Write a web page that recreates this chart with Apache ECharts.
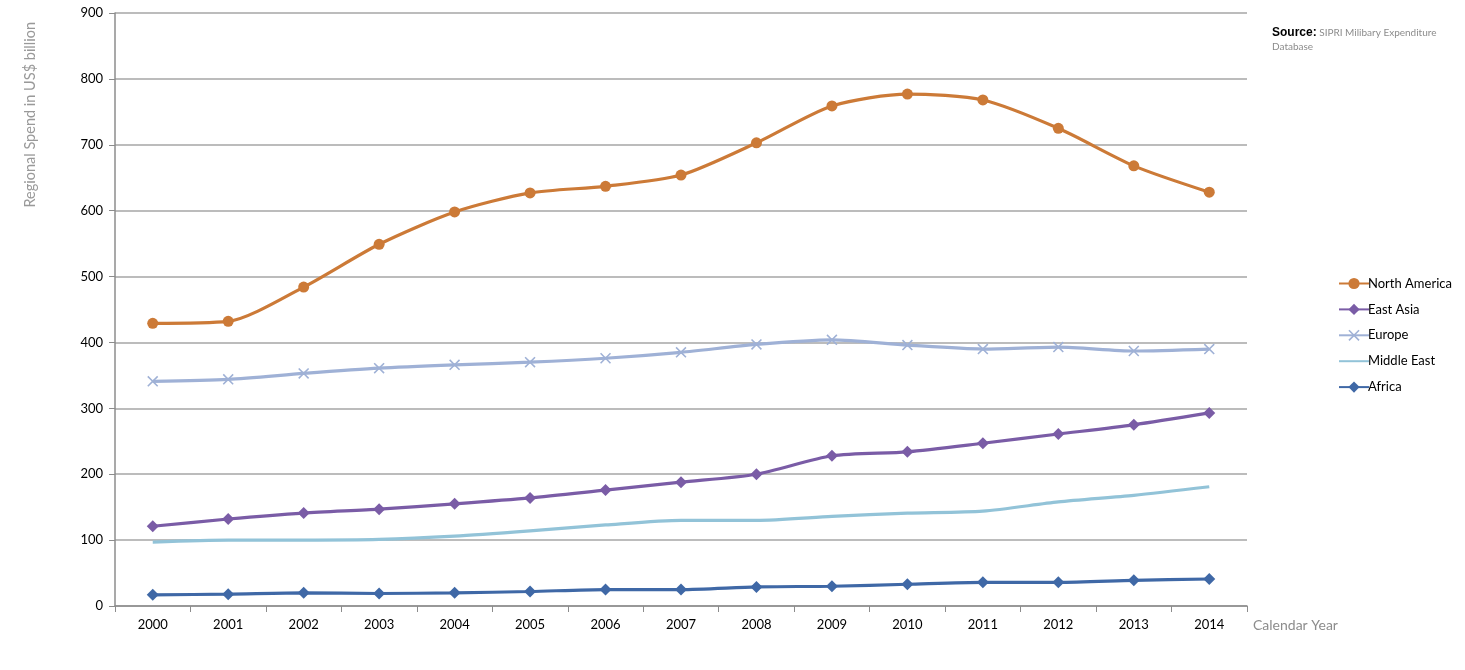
<!DOCTYPE html>
<html>
<head>
<meta charset="utf-8">
<script src="https://cdn.jsdelivr.net/npm/echarts@6/dist/echarts.min.js"></script>
<style>html,body{margin:0;padding:0;background:#fff}#c{width:1465px;height:670px}</style>
</head>
<body>
<div id="c"></div>
<script>
const years = ['2000','2001','2002','2003','2004','2005','2006','2007','2008','2009','2010','2011','2012','2013','2014'];
const northAmerica = [429,432,484,549,598,627,637,654,703,759,777,768,725,668,628];
const eastAsia = [121,132,141,147,155,164,176,188,200,228,234,247,261,275,293];
const europe = [341,344,353,361,366,370,376,385,397,404,396,390,393,387,390];
const middleEast = [97,100,100,101,106,114,123,130,130,136,141,144,158,168,181];
const africa = [17,18,20,19,20,22,25,25,29,30,33,36,36,39,41];
const yTicks = {min:0, max:900, interval:100};

const FONT = 'Lato, "Liberation Sans", sans-serif';
const crossPath = 'path://M0,1 L1,0 L5,4 L9,0 L10,1 L6,5 L10,9 L9,10 L5,6 L1,10 L0,9 L4,5 Z';

const chart = echarts.init(document.getElementById('c'));
function mk(name, data, color, symbol, size, z){
  return {
    name, type:'line', data, smooth:0.25, z,
    symbol, symbolSize:size, showSymbol: symbol !== 'none',
    lineStyle:{color, width:3.2},
    itemStyle:{color},
    emphasis:{disabled:true}
  };
}
chart.setOption({
  animation:false,
  textStyle:{fontFamily:FONT},
  grid:{left:115, right:218, top:13, bottom:64},
  legend:{
    orient:'vertical', left:1333, top:272, itemGap:11.7+1.2, itemWidth:30, itemHeight:14,
    textStyle:{fontFamily:FONT, fontSize:13, color:'#000', padding:[0,0,0,-6]},
    data:['North America','East Asia','Europe',{name:'Middle East', itemStyle:{opacity:0}},'Africa']
  },
  xAxis:{
    type:'category', data:years, boundaryGap:true,
    axisLine:{lineStyle:{color:'#8c8c8c', width:1.5}},
    axisTick:{show:true, alignWithLabel:false, length:6, lineStyle:{color:'#8c8c8c'}},
    axisLabel:{color:'#000', fontSize:13, margin:12, fontFamily:FONT},
    splitLine:{show:false}
  },
  yAxis:{
    type:'value', min:yTicks.min, max:yTicks.max, interval:yTicks.interval,
    axisLine:{show:true, lineStyle:{color:'#8c8c8c', width:1.5}},
    axisTick:{show:true, length:6, lineStyle:{color:'#8c8c8c'}},
    axisLabel:{color:'#000', fontSize:13, margin:12, fontFamily:FONT},
    splitLine:{lineStyle:{color:'#a6a6a6', width:1.5}}
  },
  series:[
    mk('North America', northAmerica, '#cc7a37', 'circle', 11, 5),
    mk('East Asia', eastAsia, '#7a5ca6', 'diamond', 12, 4),
    mk('Europe', europe, '#9fb1d6', crossPath, 11, 3),
    mk('Middle East', middleEast, '#92c3d8', 'none', 0, 2),
    mk('Africa', africa, '#3f68a6', 'diamond', 12, 6)
  ],
  graphic:[
    {type:'text', left:23, top:22, rotation:Math.PI/2, originX:0, originY:0,
     style:{text:'Regional Spend in US$ billion', fill:'#999999', font:'14.5px '+FONT}},
    {type:'text', left:1253, top:618,
     style:{text:'Calendar Year', fill:'#8c8c8c', font:'14px '+FONT}},
    {type:'text', left:1272, top:26,
     style:{text:'{b|Source:} SIPRI Milibary Expenditure\nDatabase', fill:'#8c8c8c', font:'10px '+FONT, lineHeight:14,
       rich:{b:{fill:'#000', fontWeight:'bold', font:'bold 10px '+FONT}}}}
  ]
});
</script>
</body>
</html>
